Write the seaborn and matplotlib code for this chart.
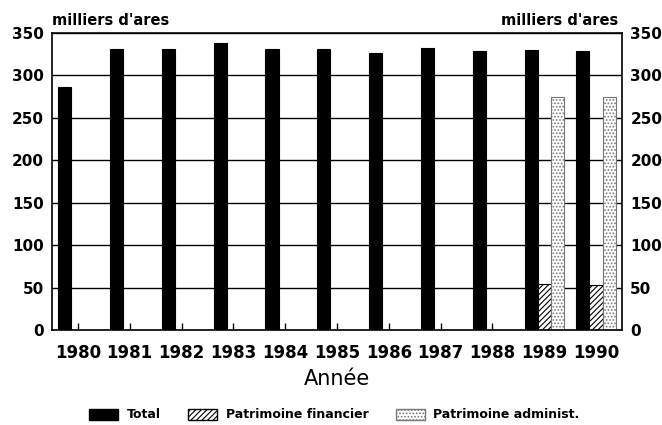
import matplotlib
matplotlib.use("Agg")
import matplotlib.pyplot as plt
import seaborn as sns
import pandas as pd
import numpy as np
from matplotlib.patches import Patch

years = ["1980", "1981", "1982", "1983", "1984", "1985", "1986", "1987", "1988", "1989", "1990"]
total = [286, 331, 331, 338, 331, 331, 326, 332, 329, 330, 329]
financier = [np.nan] * 9 + [54, 53]
administ = [np.nan] * 9 + [275, 275]
series = ["Total", "Patrimoine financier", "Patrimoine administ."]
yticks = [0, 50, 100, 150, 200, 250, 300, 350]

rows = []
for y, a, b, c in zip(years, total, financier, administ):
    rows.append((y, series[0], a))
    rows.append((y, series[1], b))
    rows.append((y, series[2], c))
df = pd.DataFrame(rows, columns=["Année", "Série", "Valeur"])

sns.set_style("white")
plt.rcParams["font.family"] = ["DejaVu Sans"]
plt.rcParams["text.color"] = "black"
plt.rcParams["xtick.color"] = "black"
plt.rcParams["ytick.color"] = "black"
plt.rcParams["axes.labelcolor"] = "black"
plt.rcParams["hatch.linewidth"] = 0.8

fig = plt.figure(figsize=(6.62, 4.25), dpi=100)
ax = fig.add_axes([0.0785, 0.2235, 0.861, 0.699])

sns.barplot(data=df, x="Année", y="Valeur", hue="Série", hue_order=series,
            order=years, palette=["black", "white", "white"], width=0.76,
            ax=ax, legend=False, saturation=1)

styles = [
    dict(fc="black", ec="black", hatch=None),
    dict(fc="white", ec="black", hatch="//////"),
    dict(fc="white", ec="#777777", hatch="....."),
]
for cont, st in zip(ax.containers, styles):
    for p in cont.patches:
        p.set_facecolor(st["fc"])
        p.set_edgecolor(st["ec"])
        p.set_linewidth(0.8)
        if st["hatch"]:
            p.set_hatch(st["hatch"])

ax.set_xlim(-0.5, len(years) - 0.5)
ax.set_ylim(0, 350)
ax.set_yticks(yticks)
ax.yaxis.grid(True, color="black", linewidth=1.0)
ax.set_axisbelow(True)
for s in ax.spines.values():
    s.set_color("black")
    s.set_linewidth(1.2)

ax.tick_params(axis="y", which="both", left=False, right=False, labelleft=True,
               labelright=True, length=0, labelsize=11, pad=6)
ax.tick_params(axis="x", bottom=True, length=5, width=1, direction="in",
               color="black", labelsize=12, pad=10)
for t in ax.get_yticklabels():
    t.set_fontweight("bold")
for t in ax.get_xticklabels():
    t.set_fontweight("bold")

ax.set_ylabel("")
ax.set_xlabel("Année", fontsize=15, labelpad=5)

fig.text(0.0785, 0.941, "milliers d'ares", fontsize=10.5, fontweight="bold",
         ha="left", va="baseline")
fig.text(0.934, 0.941, "milliers d'ares", fontsize=10.5, fontweight="bold",
         ha="right", va="baseline")

handles = [
    Patch(facecolor="black", edgecolor="black", label=series[0]),
    Patch(facecolor="white", edgecolor="black", hatch="//////", label=series[1]),
    Patch(facecolor="white", edgecolor="#777777", hatch=".....", label=series[2]),
]
leg = fig.legend(handles=handles, loc="lower center", bbox_to_anchor=(0.505, 0.004),
                 ncol=3, frameon=False, handlelength=2.3, handleheight=1.0,
                 columnspacing=2.2, handletextpad=0.7, borderpad=0.15,
                 borderaxespad=0.0,
                 prop={"weight": "bold", "size": 9})

fig.savefig("out.png", dpi=100)
